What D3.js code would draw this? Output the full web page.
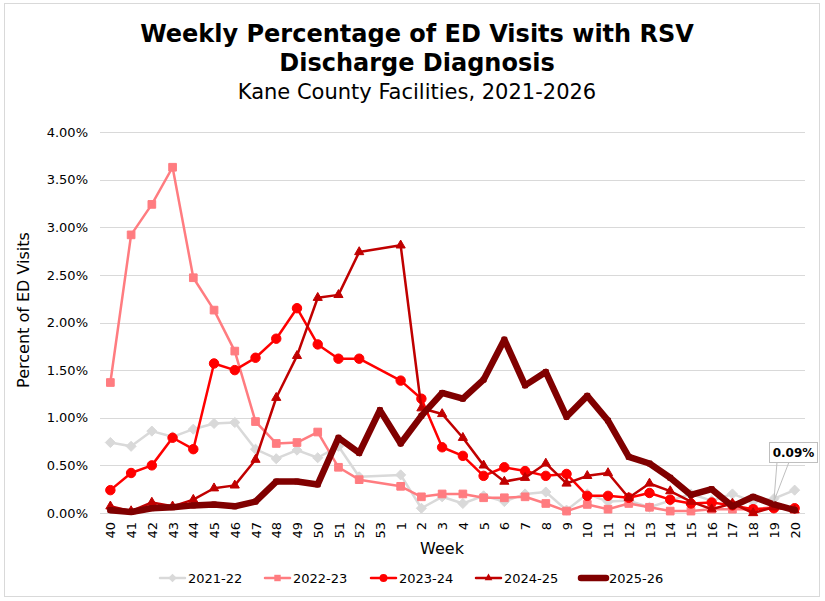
<!DOCTYPE html>
<html>
<head>
<meta charset="utf-8">
<script src="https://cdn.jsdelivr.net/npm/d3@7"></script>
<style>
  body { margin: 0; background: #fff; }
  text { font-family: Verdana, "DejaVu Sans", sans-serif; fill: #000; }
</style>
</head>
<body>
<div id="chart"></div>
<script>
// week categories (MMWR weeks 40 -> 20)
const weeks = ["40","41","42","43","44","45","46","47","48","49","50","51","52","53",
  "1","2","3","4","5","6","7","8","9","10","11","12","13","14","15","16","17","18","19","20"];

const seasons = ["2021-22", "2022-23", "2023-24", "2024-25", "2025-26"];

// percent of ED visits, null = no week 53 that season
const s2122 = [0.74,0.70,0.86,0.80,0.88,0.94,0.95,0.67,0.57,0.66,0.58,0.70,0.38,null,
  0.40,0.05,0.17,0.10,0.18,0.12,0.20,0.22,0.03,0.20,0.12,0.13,0.06,0.13,0.20,0.13,0.20,0.12,0.15,0.24];
const s2223 = [1.37,2.92,3.24,3.63,2.47,2.13,1.70,0.96,0.73,0.74,0.85,0.48,0.35,null,
  0.28,0.17,0.20,0.20,0.16,0.16,0.17,0.10,0.02,0.09,0.04,0.10,0.06,0.02,0.02,0.04,0.04,0.04,0.06,0.04];
const s2324 = [0.24,0.42,0.50,0.79,0.67,1.57,1.50,1.63,1.83,2.15,1.77,1.62,1.62,null,
  1.39,1.20,0.69,0.60,0.39,0.48,0.44,0.39,0.41,0.18,0.18,0.16,0.21,0.14,0.10,0.11,0.08,0.04,0.05,0.05];
const s2425 = [0.07,0.02,0.11,0.07,0.14,0.26,0.29,0.56,1.21,1.65,2.26,2.29,2.74,null,
  2.81,1.10,1.04,0.79,0.50,0.33,0.37,0.52,0.31,0.39,0.42,0.16,0.31,0.23,0.12,0.04,0.10,0.00,0.06,0.03];
const s2526 = [0.03,0.01,0.05,0.06,0.08,0.09,0.07,0.12,0.33,0.33,0.30,0.79,0.63,1.08,
  0.73,1.02,1.26,1.20,1.40,1.82,1.34,1.48,1.01,1.23,0.97,0.59,0.52,0.37,0.19,0.25,0.07,0.17,0.09,0.03];

const yTicks = [0, 0.5, 1, 1.5, 2, 2.5, 3, 3.5, 4];

const calloutWeek = "19";
const calloutValue = 0.09;

const W = 825, H = 601;
const plotLeft = 100, plotRight = 805, plotTop = 132, plotBottom = 513;

const series = [
  {name: seasons[0], values: s2122, color: "#d9d9d9", width: 2.5, marker: d3.symbolDiamond2, msize: 65},
  {name: seasons[1], values: s2223, color: "#ff7c80", width: 2.5, marker: d3.symbolSquare2, msize: 75},
  {name: seasons[2], values: s2324, color: "#ff0000", width: 2.5, marker: d3.symbolCircle, msize: 70},
  {name: seasons[3], values: s2425, color: "#c00000", width: 2.5, marker: d3.symbolTriangle2, msize: 60},
  {name: seasons[4], values: s2526, color: "#800000", width: 6.5, marker: d3.symbolSquare2, msize: 30}
];

const svg = d3.select("#chart").append("svg")
  .attr("width", W)
  .attr("height", H);

// outer border
svg.append("rect")
  .attr("x", 4.5).attr("y", 3.5)
  .attr("width", 815).attr("height", 593)
  .attr("fill", "#fff")
  .attr("stroke", "#d9d9d9");

const x = d3.scalePoint()
  .domain(weeks)
  .range([plotLeft, plotRight])
  .padding(0.5);

const y = d3.scaleLinear()
  .domain([0, 4])
  .range([plotBottom, plotTop]);

// gridlines
svg.append("g")
  .selectAll("line")
  .data(yTicks)
  .join("line")
    .attr("x1", plotLeft).attr("x2", plotRight)
    .attr("y1", d => Math.round(y(d)) + 0.5)
    .attr("y2", d => Math.round(y(d)) + 0.5)
    .attr("stroke", "#d9d9d9")
    .attr("stroke-width", 1);

// y axis labels
const yAxis = d3.axisLeft(y)
  .tickValues(yTicks)
  .tickFormat(d => d.toFixed(2) + "%")
  .tickSize(0)
  .tickPadding(12);

svg.append("g")
  .attr("transform", `translate(${plotLeft},0)`)
  .call(yAxis)
  .call(g => g.select(".domain").remove())
  .selectAll("text")
    .attr("font-family", "Verdana, 'DejaVu Sans', sans-serif")
    .attr("font-size", 13)
    .attr("fill", "#000");

// x axis labels (rotated)
const xAxis = d3.axisBottom(x).tickSize(0).tickPadding(0);
svg.append("g")
  .attr("transform", `translate(0,${plotBottom})`)
  .call(xAxis)
  .call(g => g.select(".domain").remove())
  .selectAll("text")
    .attr("font-family", "Verdana, 'DejaVu Sans', sans-serif")
    .attr("font-size", 13)
    .attr("fill", "#000")
    .attr("transform", "rotate(-90)")
    .attr("text-anchor", "end")
    .attr("dy", "0.35em")
    .attr("x", -9)
    .attr("y", 0);

// lines + markers
const line = d3.line()
  .x(d => x(d.week))
  .y(d => y(d.v));

series.forEach(s => {
  const pts = weeks.map((w, i) => ({week: w, v: s.values[i]}))
    .filter(d => d.v !== null);

  const g = svg.append("g");
  g.append("path")
    .datum(pts)
    .attr("d", line)
    .attr("fill", "none")
    .attr("stroke", s.color)
    .attr("stroke-width", s.width)
    .attr("stroke-linejoin", "round")
    .attr("stroke-linecap", "round");

  g.selectAll("path.mk")
    .data(pts)
    .join("path")
      .attr("class", "mk")
      .attr("transform", d => `translate(${x(d.week)},${y(d.v)})`)
      .attr("d", d3.symbol().type(s.marker).size(s.msize))
      .attr("fill", s.color)
      .attr("stroke", s.color)
      .attr("stroke-width", 1);
});

// callout for latest value
const cx = x(calloutWeek), cy = y(calloutValue);
const box = {x: 769, y: 442, w: 48, h: 20};
const callout = svg.append("g");
callout.append("path")
  .attr("d", `M${box.x + 8},${box.y + box.h} L${cx},${cy - 3} L${box.x + 20},${box.y + box.h}`)
  .attr("fill", "none")
  .attr("stroke", "#bfbfbf")
  .attr("stroke-width", 1);
callout.append("rect")
  .attr("x", box.x + 0.5).attr("y", box.y + 0.5)
  .attr("width", box.w).attr("height", box.h)
  .attr("fill", "#fff")
  .attr("stroke", "#bfbfbf");
callout.append("text")
  .attr("x", box.x + box.w / 2 + 0.5)
  .attr("y", box.y + 15)
  .attr("text-anchor", "middle")
  .attr("font-size", 12)
  .attr("font-weight", "bold")
  .attr("fill", "#404040")
  .text(calloutValue.toFixed(2) + "%");

// titles
svg.append("text")
  .attr("x", 417).attr("y", 42)
  .attr("text-anchor", "middle")
  .attr("font-size", 24)
  .attr("font-weight", "bold")
  .text("Weekly Percentage of ED Visits with RSV");
svg.append("text")
  .attr("x", 417).attr("y", 71)
  .attr("text-anchor", "middle")
  .attr("font-size", 24)
  .attr("font-weight", "bold")
  .text("Discharge Diagnosis");
svg.append("text")
  .attr("x", 417).attr("y", 99)
  .attr("text-anchor", "middle")
  .attr("font-size", 21)
  .text("Kane County Facilities, 2021-2026");

// axis titles
svg.append("text")
  .attr("x", 442).attr("y", 554)
  .attr("text-anchor", "middle")
  .attr("font-size", 16)
  .text("Week");
svg.append("text")
  .attr("transform", "translate(29,310) rotate(-90)")
  .attr("text-anchor", "middle")
  .attr("font-size", 16)
  .text("Percent of ED Visits");

// legend
const legendX = [160, 265, 371, 476, 581];
const legend = svg.append("g");
series.forEach((s, i) => {
  const lg = legend.append("g").attr("transform", `translate(${legendX[i]},578)`);
  lg.append("line")
    .attr("x1", 0).attr("x2", 25)
    .attr("stroke", s.color)
    .attr("stroke-width", s.width)
    .attr("stroke-linecap", "round");
  lg.append("path")
    .attr("transform", "translate(12.5,0)")
    .attr("d", d3.symbol().type(s.marker).size(s.msize * 0.7))
    .attr("fill", s.color);
  lg.append("text")
    .attr("x", 28).attr("y", 0)
    .attr("dy", "0.35em")
    .attr("font-size", 13)
    .text(s.name);
});
</script>
</body>
</html>
